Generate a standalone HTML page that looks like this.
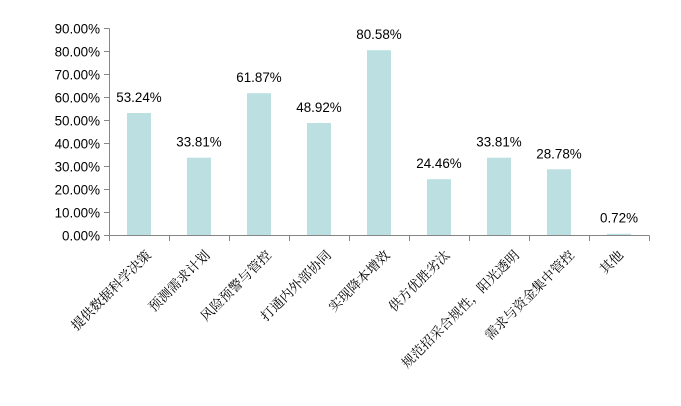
<!DOCTYPE html>
<html><head><meta charset="utf-8"><style>
html,body{margin:0;padding:0;background:#fff;}
svg{display:block;}
.v{font-family:"Liberation Sans",Arial,sans-serif;font-size:13.4px;fill:#000;}
.c{font-family:"Liberation Serif","Noto Serif CJK SC",serif;font-size:13.3px;fill:#000;}
</style></head><body>
<svg width="681" height="406" viewBox="0 0 681 406" xmlns="http://www.w3.org/2000/svg">
<rect width="681" height="406" fill="#fff"/>
<g fill="#bcdfe2">
<rect x="127" y="113.0" width="24" height="122.5"/>
<rect x="187" y="157.7" width="24" height="77.8"/>
<rect x="247" y="93.2" width="24" height="142.3"/>
<rect x="307" y="123.0" width="24" height="112.5"/>
<rect x="367" y="50.2" width="24" height="185.3"/>
<rect x="427" y="179.2" width="24" height="56.3"/>
<rect x="487" y="157.7" width="24" height="77.8"/>
<rect x="547" y="169.3" width="24" height="66.2"/>
<rect x="607" y="233.8" width="24" height="1.7"/>
</g>
<g stroke="#868686" stroke-width="1" fill="none">
<line x1="109.5" y1="28.5" x2="109.5" y2="235.5"/>
<line x1="109" y1="235.5" x2="649.5" y2="235.5"/>
<line x1="104" y1="28.5" x2="109.5" y2="28.5"/>
<line x1="104" y1="51.5" x2="109.5" y2="51.5"/>
<line x1="104" y1="74.5" x2="109.5" y2="74.5"/>
<line x1="104" y1="97.5" x2="109.5" y2="97.5"/>
<line x1="104" y1="120.5" x2="109.5" y2="120.5"/>
<line x1="104" y1="143.5" x2="109.5" y2="143.5"/>
<line x1="104" y1="166.5" x2="109.5" y2="166.5"/>
<line x1="104" y1="189.5" x2="109.5" y2="189.5"/>
<line x1="104" y1="212.5" x2="109.5" y2="212.5"/>
<line x1="104" y1="235.5" x2="109.5" y2="235.5"/>
<line x1="109.5" y1="235.5" x2="109.5" y2="241"/>
<line x1="169.5" y1="235.5" x2="169.5" y2="241"/>
<line x1="229.5" y1="235.5" x2="229.5" y2="241"/>
<line x1="289.5" y1="235.5" x2="289.5" y2="241"/>
<line x1="349.5" y1="235.5" x2="349.5" y2="241"/>
<line x1="409.5" y1="235.5" x2="409.5" y2="241"/>
<line x1="469.5" y1="235.5" x2="469.5" y2="241"/>
<line x1="529.5" y1="235.5" x2="529.5" y2="241"/>
<line x1="589.5" y1="235.5" x2="589.5" y2="241"/>
<line x1="649.5" y1="235.5" x2="649.5" y2="241"/>
</g>
<g class="v" text-anchor="end">
<text x="100" y="33.5">90.00%</text>
<text x="100" y="56.5">80.00%</text>
<text x="100" y="79.5">70.00%</text>
<text x="100" y="102.5">60.00%</text>
<text x="100" y="125.5">50.00%</text>
<text x="100" y="148.5">40.00%</text>
<text x="100" y="171.5">30.00%</text>
<text x="100" y="194.5">20.00%</text>
<text x="100" y="217.5">10.00%</text>
<text x="100" y="240.5">0.00%</text>
</g>
<g class="v" text-anchor="middle">
<text x="139" y="102">53.24%</text>
<text x="199" y="146.7">33.81%</text>
<text x="259" y="82.2">61.87%</text>
<text x="319" y="112">48.92%</text>
<text x="379" y="39.2">80.58%</text>
<text x="439" y="168.2">24.46%</text>
<text x="499" y="146.7">33.81%</text>
<text x="559" y="158.3">28.78%</text>
<text x="619" y="222.5">0.72%</text>
</g>
<g class="c" text-anchor="end">
<text transform="translate(152,256) rotate(-45)">提供数据科学决策</text>
<text transform="translate(210.5,256) rotate(-45)">预测需求计划</text>
<text transform="translate(272,256) rotate(-45)">风险预警与管控</text>
<text transform="translate(332,256) rotate(-45)">打通内外部协同</text>
<text transform="translate(390.5,256) rotate(-45)">实现降本增效</text>
<text transform="translate(450.5,256) rotate(-45)">供方优胜劣汰</text>
<text transform="translate(520,256) rotate(-45)">规范招采合规性，阳光透明</text>
<text transform="translate(575,256) rotate(-45)">需求与资金集中管控</text>
<text transform="translate(624,256) rotate(-45)">其他</text>
</g>
</svg>
</body></html>
